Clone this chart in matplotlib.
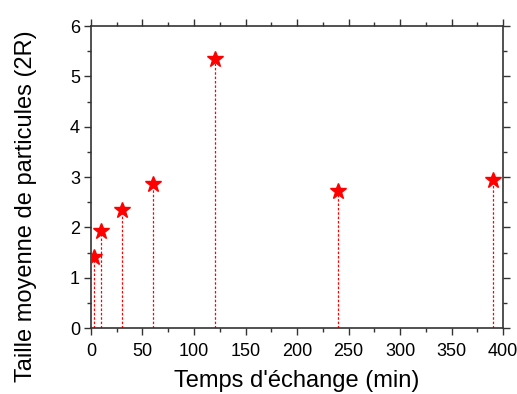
import numpy as np
import matplotlib.pyplot as plt
from matplotlib.ticker import MultipleLocator

# data
temps = [3, 10, 30, 60, 120, 240, 390]
taille = [1.41, 1.92, 2.35, 2.87, 5.35, 2.72, 2.95]

plt.rcParams['font.family'] = ['Liberation Sans', 'DejaVu Sans']

fig = plt.figure(figsize=(5.17, 3.94), dpi=100)
ax = fig.add_axes([0.176, 0.1675, 0.797, 0.7665])

ax.vlines(temps, 0, taille, colors='red', linestyles=(0, (2, 1.5)), linewidth=0.9)
ax.plot(temps, taille, linestyle='none', marker='*', color='red', markersize=12,
        markeredgecolor='red', zorder=3)

ax.set_xlim(0, 400)
ax.set_ylim(0, 6)
ax.xaxis.set_major_locator(MultipleLocator(50))
ax.xaxis.set_minor_locator(MultipleLocator(25))
ax.yaxis.set_major_locator(MultipleLocator(1))
ax.yaxis.set_minor_locator(MultipleLocator(0.5))

ax.tick_params(which='both', direction='out', top=True, right=True,
               labelsize=13, width=1, color='#333333')
ax.tick_params(which='major', length=5)
ax.tick_params(which='minor', length=3)
ax.tick_params(axis='x', which='major', pad=6)
ax.tick_params(axis='y', which='major', pad=3)
for s in ax.spines.values():
    s.set_linewidth(1.2)
    s.set_color('#333333')

ax.set_xlabel("Temps d'échange (min)", fontsize=17)
ax.set_ylabel("Taille moyenne de particules (2R)", fontsize=17)
ax.xaxis.set_label_coords(0.5, -0.14)
ax.yaxis.set_label_coords(-0.13, 0.405)

fig.savefig('out.png', dpi=100)
